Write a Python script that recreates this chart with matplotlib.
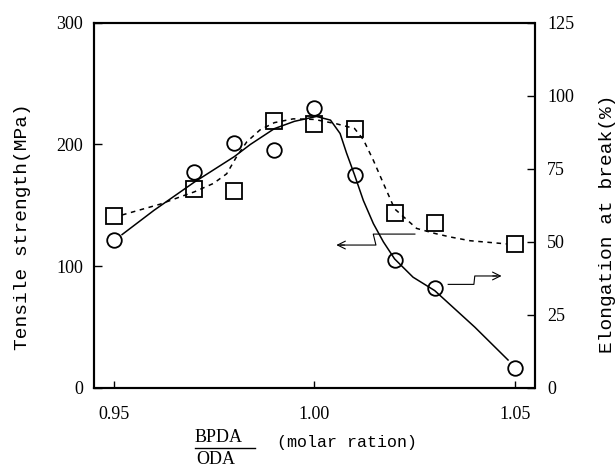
import matplotlib
matplotlib.use("Agg")
import matplotlib.pyplot as plt

# ---- data ----
ratio = [0.95, 0.97, 0.98, 0.99, 1.00, 1.01, 1.02, 1.03, 1.05]
tensile = [121.5, 177.6, 201.4, 195.4, 229.6, 174.9, 105.1, 81.9, 16.5]        # MPa (circles)
elongation = [59.0, 68.1, 67.4, 91.3, 90.3, 88.7, 59.8, 56.3, 49.2]            # % (squares)

# fitted curves as drawn in the reference
tens_curve_x = [0.952, 0.96, 0.97, 0.98, 0.984, 0.99, 0.995, 1.0005, 1.004, 1.0064,
                1.008, 1.01, 1.0122, 1.0147, 1.0172, 1.02, 1.0246, 1.03, 1.04, 1.0483]
tens_curve_y = [126, 146, 169, 190, 200, 213, 219, 223, 220, 209,
                193, 175, 154, 135, 120, 106, 91, 80, 50, 23]
elon_curve_x = [0.952, 0.9615, 0.9665, 0.97, 0.9748, 0.9781, 0.9806, 0.9831, 0.9864, 0.99,
                0.9947, 1.00, 1.0055, 1.01, 1.0122, 1.0147, 1.0172, 1.02, 1.0255, 1.03,
                1.0338, 1.0388, 1.0438, 1.048]
elon_curve_y = [59.2, 62.9, 65.4, 67.1, 70.0, 73.3, 79.2, 84.2, 88.3, 90.8,
                92.1, 91.9, 90.4, 88.8, 85.0, 77.9, 70.0, 61.3, 54.6, 52.9,
                51.7, 50.4, 49.8, 49.3]

xticks = [0.95, 1.00, 1.05]
xtick_labels = ["0.95", "1.00", "1.05"]
yticks_left = [0, 100, 200, 300]
yticks_right = [0, 25, 50, 75, 100, 125]

W, H = 616, 466
fig = plt.figure(figsize=(W / 100, H / 100), dpi=100)
ax = fig.add_axes([94 / W, 1 - 388 / H, (534.5 - 94) / W, (388 - 22.7) / H])
ax2 = ax.twinx()

num_font = dict(family="Liberation Serif", size=13)
mono = "Liberation Mono"

ax.plot(tens_curve_x, tens_curve_y, color="black", lw=1.1, zorder=2)
ax.plot(ratio, tensile, linestyle="none", marker="o", markersize=10.5,
        markerfacecolor="none", markeredgecolor="black", markeredgewidth=1.3, zorder=3)
ax2.plot(elon_curve_x, elon_curve_y, color="black", lw=1.1, linestyle=(0, (3, 3)), zorder=2)
ax2.plot(ratio, elongation, linestyle="none", marker="s", markersize=11,
         markerfacecolor="none", markeredgecolor="black", markeredgewidth=1.3, zorder=3)

ax.set_xlim(0.945, 1.0549)
ax.set_ylim(0, 300)
ax2.set_ylim(0, 125)
ax.set_xticks(xticks)
ax.set_xticklabels(xtick_labels, fontdict=num_font)
ax.set_yticks(yticks_left)
ax.set_yticklabels([str(v) for v in yticks_left], fontdict=num_font)
ax2.set_yticks(yticks_right)
ax2.set_yticklabels([str(v) for v in yticks_right], fontdict=num_font)

ax.tick_params(axis="x", direction="in", length=5, width=1, pad=13)
ax.tick_params(axis="y", direction="in", length=6, width=1, pad=8)
ax2.tick_params(axis="y", direction="in", length=6, width=1, pad=9)
for a in (ax, ax2):
    for s in a.spines.values():
        s.set_linewidth(1.5)

# annotation arrows (zig-zag pointers)
ax.plot([1.02506, 1.01467, 1.01534, 1.0065], [126.4, 126.4, 117.4, 117.4],
        color="black", lw=0.8, zorder=2)
ax.annotate("", xy=(1.00546, 117.4), xytext=(1.0075, 117.4),
            arrowprops=dict(arrowstyle="->", lw=0.8, color="black",
                            mutation_scale=14, shrinkA=0, shrinkB=0))
ax.plot([1.03337, 1.03978, 1.0400, 1.0455], [85.1, 85.1, 92.0, 92.0],
        color="black", lw=0.8, zorder=2)
ax.annotate("", xy=(1.04668, 92.0), xytext=(1.0445, 92.0),
            arrowprops=dict(arrowstyle="->", lw=0.8, color="black",
                            mutation_scale=14, shrinkA=0, shrinkB=0))

# axis labels
fig.text(23 / W, 1 - 227 / H, "Tensile strength(MPa)", rotation=90,
         ha="center", va="center", family=mono, size=14)
fig.text(607 / W, 1 - 224 / H, "Elongation at break(%)", rotation=90,
         ha="center", va="center", family=mono, size=14)
fig.text(219 / W, 1 - 437 / H, "BPDA", ha="center", va="center",
         family="Liberation Serif", size=13)
fig.text(216 / W, 1 - 459 / H, "ODA", ha="center", va="center",
         family="Liberation Serif", size=13)
fig.add_artist(plt.Line2D([195 / W, 255 / W], [1 - 448 / H, 1 - 448 / H],
                          color="black", lw=1.0))
fig.text(277 / W, 1 - 443 / H, "(molar ration)", ha="left", va="center",
         family=mono, size=12)

fig.savefig("out.png", dpi=100)
